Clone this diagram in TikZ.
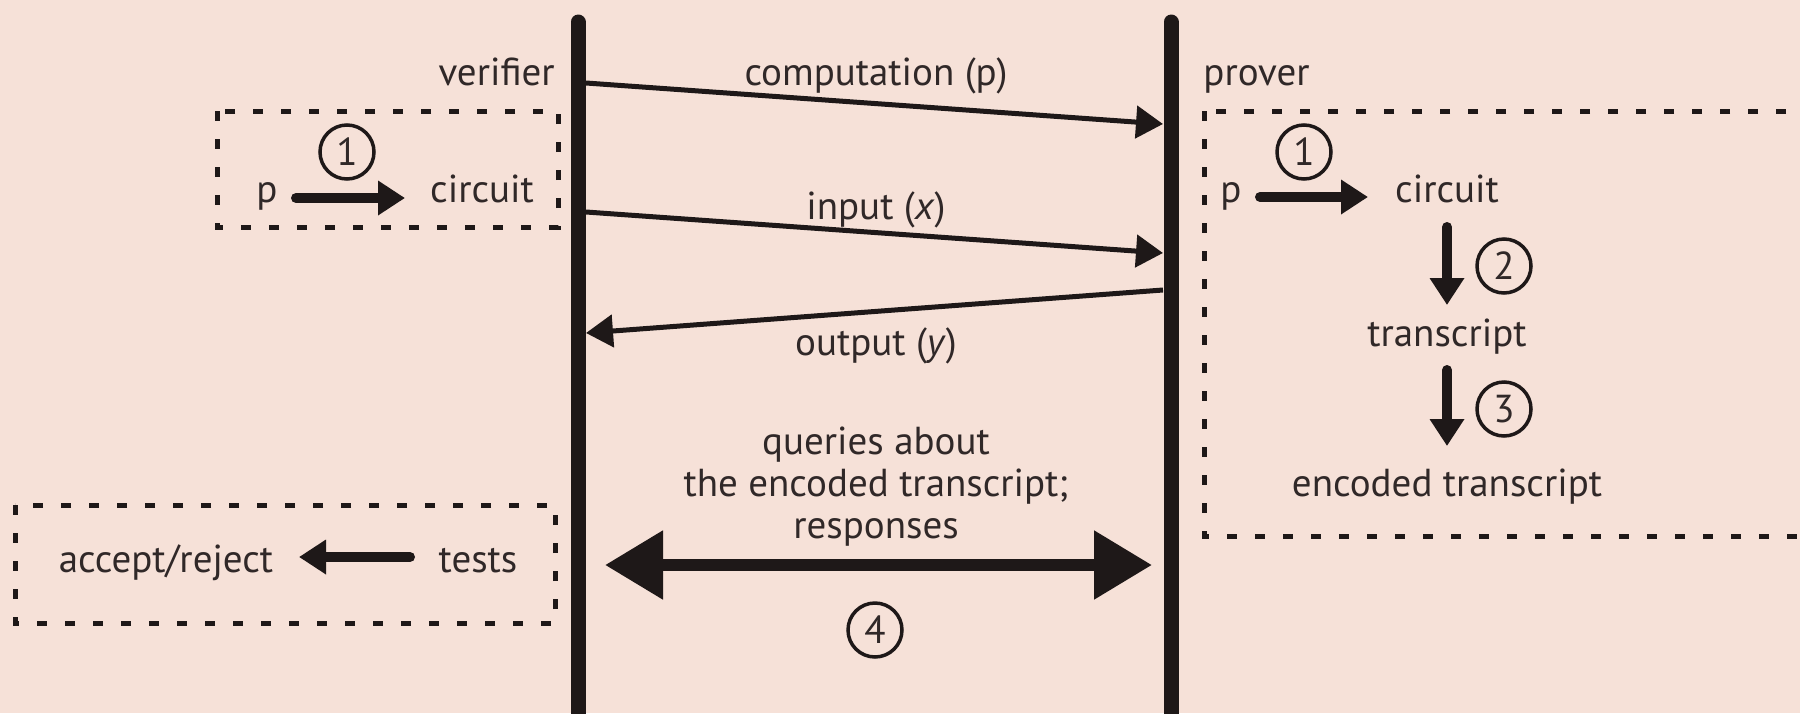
\documentclass[tikz,border=0pt]{standalone}
\usepackage{fontspec}
\setmainfont{PT Sans}
\usetikzlibrary{arrows.meta}
\definecolor{bg}{HTML}{F6E1D8}
\definecolor{ink}{HTML}{1E1818}
\definecolor{txt}{HTML}{302828}
\begin{document}
\begin{tikzpicture}[x=0.5pt,y=-0.5pt,
  lbl/.style={text=txt,font=\fontsize{19.5}{21}\selectfont,inner sep=0pt,anchor=base},
  lifeline/.style={draw=ink,line width=7.5pt,line cap=round},
  msg/.style={draw=ink,line width=2.5pt,-{Triangle[length=13.5pt,width=16pt]}},
  fat/.style={draw=ink,line width=5pt,line cap=round,-{Triangle[length=13.5pt,width=16.5pt]}},
  twoway/.style={draw=ink,line width=6pt,{Triangle[length=29pt,width=33pt]}-{Triangle[length=29pt,width=33pt]}},
  dbox/.style={draw=ink,line width=2.5pt,dash pattern=on 5pt off 9pt},
  numc/.style={circle,draw=ink,line width=1.75pt,minimum size=27pt,inner sep=0pt,text=txt,font=\fontsize{19.5}{21}\selectfont},
]
\useasboundingbox (0,0) rectangle (1800,713);
\fill[bg] (0,0) rectangle (1800,713);

% dashed boxes
\draw[dbox] (217,111) rectangle (558,227);
\draw[dbox] (1204,111) rectangle (1840,536);
\draw[dbox] (15,505) rectangle (555,623);

% lifelines
\coordinate (vtop) at (578,22);
\coordinate (vbot) at (578,730);
\coordinate (ptop) at (1171,22);
\coordinate (pbot) at (1171,730);
\draw[lifeline] (vtop) -- (vbot);
\draw[lifeline] (ptop) -- (pbot);

% labels
\node[lbl,anchor=base east] (ver) at (555,85) {verifier};
\node[lbl,anchor=base west] (prv) at (1203,85) {prover};
\node[lbl] (lcomp) at (876,85) {computation (p)};
\node[lbl] (linp) at (876,219) {input (\textit{x})};
\node[lbl] (lout) at (876,355) {output (\textit{y})};
\node[lbl,align=center] (lq) at (876,538) {queries about\\the encoded transcript;\\responses};

% messages
\coordinate (m1a) at (586,83);  \coordinate (m1b) at (1163,124);
\coordinate (m2a) at (586,212); \coordinate (m2b) at (1163,253);
\coordinate (m3a) at (1163,290); \coordinate (m3b) at (586,333);
\draw[msg] (m1a) -- (m1b);
\draw[msg] (m2a) -- (m2b);
\draw[msg] (m3a) -- (m3b);

\coordinate (qa) at (605,565); \coordinate (qb) at (1152,565);
\draw[twoway] (qa) -- (qb);
\node[numc] (c4) at (875,630) {4};

% verifier box
\node[lbl] (pl) at (267,202) {p};
\node[lbl] (cl) at (482,202) {circuit};
\node[numc] (c1l) at (347,152) {1};
\coordinate (pla) at (296,198); \coordinate (plb) at (405,198);
\draw[fat] (pla) -- (plb);

% prover box
\node[lbl] (pr) at (1231,202) {p};
\node[lbl] (cr) at (1447,202) {circuit};
\node[lbl] (tr) at (1447,346) {transcript};
\node[lbl] (etr) at (1447,496) {encoded transcript};
\node[numc] (c1r) at (1304,152) {1};
\node[numc] (c2) at (1504,266) {2};
\node[numc] (c3) at (1504,409) {3};
\coordinate (pra) at (1260,197); \coordinate (prb) at (1368,197);
\draw[fat] (pra) -- (prb);
\coordinate (d2a) at (1447,227); \coordinate (d2b) at (1447,305);
\draw[fat] (d2a) -- (d2b);
\coordinate (d3a) at (1447,370); \coordinate (d3b) at (1447,446);
\draw[fat] (d3a) -- (d3b);

% tests box
\node[lbl] (acc) at (166,572) {accept/reject};
\node[lbl] (tst) at (478,572) {tests};
\coordinate (ta) at (410,557); \coordinate (tb) at (299,557);
\draw[fat] (ta) -- (tb);
\end{tikzpicture}
\end{document}
